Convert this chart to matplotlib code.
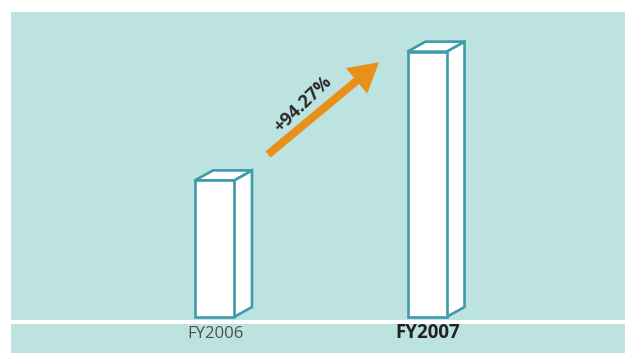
import matplotlib
matplotlib.use("Agg")
import matplotlib.pyplot as plt
from matplotlib.patches import Polygon, Rectangle, FancyArrowPatch, ArrowStyle
from matplotlib.transforms import blended_transform_factory

# Data
years = ["FY2006", "FY2007"]
values = [100.0, 194.27]

growth = (values[1] / values[0] - 1) * 100

W, H, DPI = 625, 361, 100
BG = "#BCE3E0"
EDGE = "#3E9BAA"
ORANGE = "#E8901A"

plt.rcParams["font.family"] = ["Open Sans", "DejaVu Sans"]

fig = plt.figure(figsize=(W / DPI, H / DPI), dpi=DPI)
fig.patch.set_facecolor("white")

def px_rect(x0, y0, x1, y1):
    # pixel box (top-left origin) -> figure fractions
    return [x0 / W, 1 - y1 / H, (x1 - x0) / W, (y1 - y0) / H]

# label band below the plotting panel
fig.patches.append(Rectangle((11 / W, 1 - 353 / H), 1, (353 - 324) / H,
                             transform=fig.transFigure, facecolor=BG,
                             edgecolor="none", zorder=-1))

ax = fig.add_axes(px_rect(11, 12, 625, 320))
ax.set_facecolor(BG)
for s in ax.spines.values():
    s.set_visible(False)

xscale = 212.5   # px per category step
yscale = 1.366   # px per value unit
ax.set_xlim(-(214.5 - 11) / xscale, (625 - 214.5) / xscale)
ax.set_ylim(-3 / yscale, (308 - 3) / yscale)

half_w = 19.5 / xscale
dx = 18 / xscale
dy = 10 / yscale

for i, v in enumerate(values):
    x0, x1 = i - half_w, i + half_w
    front = [(x0, 0), (x1, 0), (x1, v), (x0, v)]
    side = [(x1, 0), (x1 + dx, dy), (x1 + dx, v + dy), (x1, v)]
    top = [(x0, v), (x1, v), (x1 + dx, v + dy), (x0 + dx, v + dy)]
    for poly in (side, top, front):
        ax.add_patch(Polygon(poly, closed=True, facecolor="white",
                             edgecolor=EDGE, linewidth=1.9,
                             joinstyle="miter", zorder=3))

# growth arrow
arrow = FancyArrowPatch((0.252, 119.0), (0.774, 186.5),
                        arrowstyle=ArrowStyle.Simple(head_length=21,
                                                     head_width=24,
                                                     tail_width=5.8),
                        mutation_scale=1, shrinkA=0, shrinkB=0,
                        facecolor=ORANGE, edgecolor="none", zorder=4)
ax.add_patch(arrow)
ax.text(0.418, 156.0, f"+{growth:.2f}%", rotation=44, rotation_mode="anchor",
        ha="center", va="center", fontsize=13, fontweight="bold",
        color="#2a2a2a", zorder=5)

ax.set_xticks([])
ax.set_yticks([])

trans = blended_transform_factory(ax.transData, ax.transAxes)
for i, name in enumerate(years):
    bold = i == len(years) - 1
    ax.text(i + 0.005, -13.5 / 308, name, transform=trans, ha="center",
            va="center", fontsize=13.5 if bold else 12,
            fontweight="bold" if bold else "normal",
            color="#222222" if bold else "#4f4f4f", clip_on=False,
            zorder=5)

fig.savefig("out.png", dpi=DPI, facecolor="white")
